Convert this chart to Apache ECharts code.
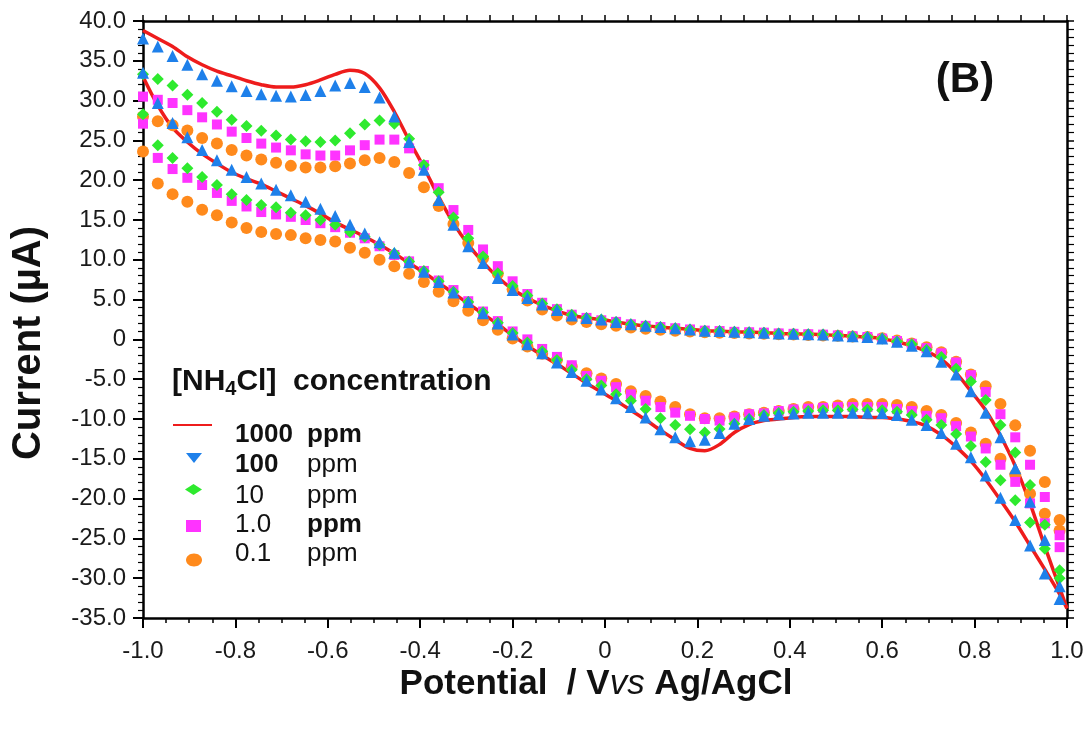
<!DOCTYPE html>
<html>
<head>
<meta charset="utf-8">
<script src="https://cdn.jsdelivr.net/npm/echarts@6/dist/echarts.min.js"></script>
<style>
  html, body { margin: 0; padding: 0; background: #ffffff; }
  #chart { width: 1088px; height: 731px; }
</style>
</head>
<body>
<div id="chart"></div>
<script>
// Potential grid of the recorded points (V vs Ag/AgCl), shared by both sweeps
const POTENTIAL = [
  -1.000, -0.968, -0.936, -0.904, -0.872, -0.840, -0.808, -0.776, -0.744, -0.712,
  -0.680, -0.648, -0.616, -0.584, -0.552, -0.520, -0.488, -0.456, -0.424, -0.392,
  -0.360, -0.328, -0.296, -0.264, -0.232, -0.200, -0.168, -0.136, -0.104, -0.072,
  -0.040, -0.008, 0.024, 0.056, 0.088, 0.120, 0.152, 0.184, 0.216, 0.248,
  0.280, 0.312, 0.344, 0.376, 0.408, 0.440, 0.472, 0.504, 0.536, 0.568,
  0.600, 0.632, 0.664, 0.696, 0.728, 0.760, 0.792, 0.824, 0.856, 0.888,
  0.920, 0.952, 0.984
];

// Switching point of the 1000 ppm trace
const SWITCH_POTENTIAL = 1.0;
const SWITCH_CURRENT_1000 = -33.8;

// Current (uA), upper sweep and lower sweep, per NH4Cl concentration
const cur1000Up = [
  38.8, 37.8, 36.8, 35.5, 34.5, 33.7, 33.1, 32.5, 32.0, 31.7,
  31.7, 32.0, 32.6, 33.3, 33.8, 33.4, 31.6, 28.6, 25.0, 21.6,
  17.9, 14.6, 11.9, 9.7, 7.8, 6.3, 5.2, 4.3, 3.6, 3.0,
  2.7, 2.5, 2.2, 1.9, 1.7, 1.55, 1.4, 1.25, 1.1, 1.05,
  0.95, 0.9, 0.85, 0.75, 0.7, 0.65, 0.6, 0.5, 0.4, 0.3,
  0.1, -0.3, -0.8, -1.5, -2.5, -4.2, -6.5, -8.9, -12.1, -15.9,
  -20.6, -26.0, -31.2
];
const cur1000Down = [
  33.0, 29.4, 26.6, 24.8, 23.3, 22.1, 21.0, 20.2, 19.5, 18.6,
  17.7, 16.8, 15.8, 14.7, 13.8, 12.9, 11.9, 10.8, 9.6, 8.4,
  7.1, 5.8, 4.5, 3.2, 1.9, 0.5, -0.8, -2.0, -3.1, -4.3,
  -5.5, -6.6, -7.7, -8.9, -10.1, -11.4, -12.6, -13.7, -14.0, -13.2,
  -11.7, -10.7, -10.2, -10.0, -9.8, -9.7, -9.7, -9.7, -9.7, -9.8,
  -9.8, -10.0, -10.3, -10.9, -12.0, -13.5, -15.3, -17.6, -20.2, -22.9,
  -25.9, -28.9, -32.0
];

const cur100Up = [
  37.8, 36.8, 35.6, 34.5, 33.3, 32.5, 31.8, 31.2, 30.8, 30.6,
  30.5, 30.7, 31.2, 31.9, 32.2, 31.7, 30.4, 28.0, 24.8, 21.3,
  17.5, 14.4, 11.7, 9.6, 7.7, 6.2, 5.2, 4.4, 3.7, 3.0,
  2.7, 2.5, 2.2, 1.9, 1.7, 1.55, 1.4, 1.25, 1.1, 1.05,
  0.95, 0.9, 0.85, 0.75, 0.7, 0.65, 0.6, 0.5, 0.4, 0.3,
  0.1, -0.3, -0.8, -1.5, -2.8, -4.4, -6.5, -9.2, -12.3, -16.2,
  -20.4, -25.2, -31.0
];
const cur100Down = [
  33.5, 29.7, 27.2, 25.4, 23.8, 22.5, 21.3, 20.4, 19.6, 18.8,
  18.1, 17.3, 16.4, 15.5, 14.4, 13.3, 12.2, 10.9, 9.7, 8.5,
  7.2, 5.9, 4.7, 3.3, 2.0, 0.6, -0.6, -1.75, -2.9, -4.1,
  -5.2, -6.3, -7.4, -8.5, -9.8, -11.3, -12.3, -12.8, -12.6, -11.75,
  -10.6, -10.0, -9.6, -9.4, -9.3, -9.2, -9.2, -9.2, -9.2, -9.2,
  -9.25, -9.5, -10.1, -10.75, -11.75, -13.1, -14.8, -17.1, -19.9, -22.7,
  -25.9, -29.4, -32.6
];

const cur10Up = [
  33.3, 32.7, 31.9, 30.75, 29.7, 28.6, 27.6, 26.8, 26.2, 25.6,
  25.1, 24.9, 24.8, 25.0, 25.9, 27.0, 27.5, 27.1, 25.2, 21.9,
  18.5, 15.3, 12.7, 10.4, 8.3, 6.7, 5.5, 4.5, 3.8, 3.1,
  2.7, 2.5, 2.2, 1.9, 1.7, 1.55, 1.4, 1.25, 1.1, 1.05,
  0.95, 0.9, 0.85, 0.75, 0.7, 0.65, 0.6, 0.5, 0.4, 0.3,
  0.1, -0.25, -0.6, -1.3, -2.2, -3.7, -5.3, -7.6, -10.75, -14.2,
  -18.3, -23.3, -29.0
];
const cur10Down = [
  28.3, 24.4, 22.8, 21.5, 20.4, 19.4, 18.25, 17.5, 16.9, 16.6,
  15.9, 15.6, 15.0, 14.4, 13.5, 12.9, 11.9, 10.8, 9.8, 8.6,
  7.3, 6.0, 4.7, 3.4, 2.1, 0.8, -0.4, -1.5, -2.6, -3.8,
  -5.0, -5.8, -6.9, -7.7, -8.75, -9.9, -10.75, -11.3, -11.7, -11.25,
  -10.6, -10.0, -9.5, -9.25, -9.1, -9.0, -8.9, -8.9, -8.8, -8.8,
  -8.9, -9.1, -9.5, -10.1, -10.75, -11.9, -13.4, -15.4, -17.7, -20.2,
  -23.0, -26.3, -30.0
];

const cur1Up = [
  30.5, 30.1, 29.7, 28.8, 27.9, 27.0, 26.1, 25.3, 24.6, 24.1,
  23.75, 23.25, 23.1, 23.1, 23.75, 24.4, 25.1, 25.1, 24.0, 21.9,
  19.0, 16.25, 13.75, 11.3, 9.2, 7.3, 5.7, 4.6, 3.8, 3.1,
  2.7, 2.4, 2.2, 1.9, 1.7, 1.55, 1.4, 1.25, 1.1, 1.05,
  0.95, 0.9, 0.85, 0.75, 0.7, 0.65, 0.6, 0.5, 0.4, 0.3,
  0.1, -0.2, -0.55, -1.1, -1.75, -2.9, -4.5, -6.6, -9.4, -12.3,
  -15.75, -19.8, -24.6
];
const cur1Down = [
  27.1, 22.8, 21.4, 20.3, 19.4, 18.4, 17.4, 16.7, 16.0, 15.7,
  15.4, 15.0, 14.6, 14.1, 13.4, 12.7, 11.7, 10.6, 9.8, 8.6,
  7.4, 6.2, 4.8, 3.5, 2.3, 1.0, 0.0, -1.2, -2.2, -3.25,
  -4.6, -5.2, -6.0, -6.9, -7.7, -8.5, -9.2, -9.6, -10.0, -10.2,
  -9.8, -9.4, -9.3, -9.0, -8.8, -8.7, -8.6, -8.5, -8.5, -8.5,
  -8.5, -8.75, -9.0, -9.6, -9.9, -10.9, -12.2, -13.7, -15.75, -17.9,
  -20.6, -23.1, -26.1
];

const cur01Up = [
  28.0, 27.4, 26.9, 26.25, 25.3, 24.6, 23.8, 23.1, 22.6, 22.2,
  21.8, 21.6, 21.6, 21.75, 22.1, 22.5, 22.8, 22.3, 20.9, 19.1,
  16.75, 14.5, 12.1, 10.2, 8.25, 6.3, 4.9, 3.75, 3.0, 2.5,
  2.2, 1.9, 1.7, 1.5, 1.35, 1.2, 1.1, 1.0, 0.9, 0.85,
  0.8, 0.75, 0.7, 0.65, 0.6, 0.55, 0.5, 0.45, 0.35, 0.3,
  0.15, -0.15, -0.5, -1.0, -1.6, -2.8, -4.4, -5.9, -8.1, -10.8,
  -14.0, -17.9, -22.7
];
const cur01Down = [
  23.6, 19.6, 18.25, 17.3, 16.3, 15.6, 14.7, 14.0, 13.5, 13.25,
  13.1, 12.7, 12.5, 12.3, 11.5, 10.9, 10.0, 9.2, 8.25, 7.2,
  6.0, 4.8, 3.6, 2.4, 1.2, 0.1, -0.9, -1.8, -2.6, -3.4,
  -4.25, -4.9, -5.6, -6.5, -7.1, -7.8, -8.5, -9.4, -9.9, -9.9,
  -9.7, -9.4, -9.2, -9.0, -8.75, -8.5, -8.5, -8.3, -8.1, -8.1,
  -8.1, -8.25, -8.5, -9.0, -9.5, -10.5, -11.7, -13.1, -15.0, -17.0,
  -19.4, -21.9, -24.0
];

// Axis ranges
const X_MIN = -1.0, X_MAX = 1.0, X_STEP = 0.2;
const Y_MIN = -35, Y_MAX = 40, Y_STEP = 5;

const FONT = '"Liberation Sans", Arial, Helvetica, sans-serif';

function pairs(xs, ys) {
  return ys.map((y, i) => [xs[i], y]);
}

// Full loop of the 1000 ppm trace: upper sweep, switching point, lower sweep back
const loop1000 = pairs(POTENTIAL, cur1000Up)
  .concat([[SWITCH_POTENTIAL, SWITCH_CURRENT_1000]])
  .concat(pairs(POTENTIAL, cur1000Down).reverse());

function markerSeries(name, up, down, symbol, size, color) {
  return {
    name: name,
    type: 'scatter',
    symbol: symbol,
    symbolSize: size,
    itemStyle: { color: color, opacity: 1 },
    data: pairs(POTENTIAL, up).concat(pairs(POTENTIAL, down)),
    z: 3
  };
}

function tickText(v) {
  return Math.abs(v) < 1e-9 ? '0' : v.toFixed(1);
}

const chart = echarts.init(document.getElementById('chart'), null, { renderer: 'canvas' });

const option = {
  animation: false,
  backgroundColor: '#ffffff',
  grid: { left: 143, right: 21, top: 21, bottom: 113, containLabel: false, outerBoundsMode: 'none' },
  xAxis: [
    {
      type: 'value', position: 'bottom',
      min: X_MIN, max: X_MAX, interval: X_STEP,
      axisLine: { show: true, onZero: false, lineStyle: { color: '#000', width: 2.5 } },
      axisTick: { show: true, inside: false, length: 10, lineStyle: { color: '#000', width: 2 } },
      minorTick: { show: true, splitNumber: 4, length: 5, lineStyle: { color: '#000', width: 1.5 } },
      splitLine: { show: false },
      axisLabel: { fontSize: 24, color: '#1a1a1a', fontFamily: FONT, margin: 21, formatter: tickText }
    },
    {
      type: 'value', position: 'top',
      min: X_MIN, max: X_MAX, interval: X_STEP,
      axisLine: { show: true, onZero: false, lineStyle: { color: '#000', width: 2.5 } },
      axisTick: { show: true, inside: false, length: 6, lineStyle: { color: '#000', width: 1.5 } },
      minorTick: { show: true, splitNumber: 4, length: 6, lineStyle: { color: '#000', width: 1.5 } },
      splitLine: { show: false },
      axisLabel: { show: false }
    }
  ],
  yAxis: [
    {
      type: 'value', position: 'left',
      min: Y_MIN, max: Y_MAX, interval: Y_STEP,
      axisLine: { show: true, onZero: false, lineStyle: { color: '#000', width: 2.5 } },
      axisTick: { show: true, inside: false, length: 10, lineStyle: { color: '#000', width: 2 } },
      minorTick: { show: true, splitNumber: 5, length: 5, lineStyle: { color: '#000', width: 1.2 } },
      splitLine: { show: false },
      axisLabel: { fontSize: 24, color: '#1a1a1a', fontFamily: FONT, margin: 17, formatter: tickText }
    },
    {
      type: 'value', position: 'right',
      min: Y_MIN, max: Y_MAX, interval: Y_STEP,
      axisLine: { show: true, onZero: false, lineStyle: { color: '#000', width: 2.5 } },
      axisTick: { show: true, inside: false, length: 7, lineStyle: { color: '#000', width: 1.5 } },
      minorTick: { show: true, splitNumber: 5, length: 7, lineStyle: { color: '#000', width: 1.2 } },
      splitLine: { show: false },
      axisLabel: { show: false }
    }
  ],
  series: [
    {
      name: '1000 ppm',
      type: 'line',
      data: loop1000,
      smooth: 0.3,
      showSymbol: false,
      symbol: 'none',
      lineStyle: { color: '#ee1c1c', width: 3.5 },
      z: 2
    },
    markerSeries('0.1 ppm', cur01Up, cur01Down, 'circle', 12, '#ff8a1c'),
    markerSeries('1.0 ppm', cur1Up, cur1Down, 'rect', 10, '#ff33ff'),
    markerSeries('10 ppm', cur10Up, cur10Down, 'diamond', [12, 12], '#2eea2e'),
    markerSeries('100 ppm', cur100Up, cur100Down, 'triangle', 12, '#1e80ea')
  ],
  graphic: [
    // axis titles
    {
      type: 'text', x: 29, y: 343, rotation: Math.PI / 2,
      style: {
        text: 'Current (\u00b5A)', align: 'center', verticalAlign: 'middle',
        font: 'bold 40px ' + FONT, fill: '#111'
      }
    },
    {
      type: 'text', x: 596, y: 684,
      style: {
        text: '{b|Potential  / V}{i|vs}{b| Ag/AgCl}', align: 'center', verticalAlign: 'middle',
        rich: {
          b: { fontSize: 35, fontWeight: 'bold', fontFamily: FONT, fill: '#111' },
          i: { fontSize: 35, fontStyle: 'italic', fontFamily: FONT, fill: '#111' }
        }
      }
    },
    // panel tag
    {
      type: 'text', x: 965, y: 80,
      style: { text: '(B)', align: 'center', verticalAlign: 'middle', font: 'bold 42px ' + FONT, fill: '#111' }
    },
    // legend
    {
      type: 'text', x: 172, y: 382,
      style: {
        text: '{m|[NH}{s|4}{m|Cl]  concentration}', align: 'left', verticalAlign: 'middle',
        rich: {
          m: { fontSize: 30, fontWeight: 'bold', fontFamily: FONT, fill: '#111', lineHeight: 34 },
          s: { fontSize: 20, fontWeight: 'bold', fontFamily: FONT, fill: '#111', verticalAlign: 'bottom', lineHeight: 34, padding: [12, 0, 0, 0] }
        }
      }
    },
    { type: 'line', shape: { x1: 173, y1: 425, x2: 212, y2: 425 }, style: { stroke: '#ee1c1c', lineWidth: 2 } },
    { type: 'polygon', shape: { points: [[186, 453], [202, 453], [194, 463]] }, style: { fill: '#1e80ea' } },
    { type: 'polygon', shape: { points: [[185, 489.5], [193.5, 484], [202, 489.5], [193.5, 495]] }, style: { fill: '#2eea2e' } },
    { type: 'rect', shape: { x: 186, y: 520, width: 15, height: 12 }, style: { fill: '#ff33ff' } },
    { type: 'ellipse', shape: { cx: 194, cy: 560, rx: 8, ry: 6.5 }, style: { fill: '#ff8a1c' } },
    { type: 'text', x: 235, y: 435, style: { text: '1000', verticalAlign: 'middle', font: 'bold 26px ' + FONT, fill: '#111' } },
    { type: 'text', x: 307, y: 435, style: { text: 'ppm', verticalAlign: 'middle', font: 'bold 26px ' + FONT, fill: '#111' } },
    { type: 'text', x: 235, y: 465, style: { text: '100', verticalAlign: 'middle', font: 'bold 26px ' + FONT, fill: '#111' } },
    { type: 'text', x: 307, y: 465, style: { text: 'ppm', verticalAlign: 'middle', font: '26px ' + FONT, fill: '#111' } },
    { type: 'text', x: 235, y: 496, style: { text: '10', verticalAlign: 'middle', font: '26px ' + FONT, fill: '#111' } },
    { type: 'text', x: 307, y: 496, style: { text: 'ppm', verticalAlign: 'middle', font: '26px ' + FONT, fill: '#111' } },
    { type: 'text', x: 235, y: 525, style: { text: '1.0', verticalAlign: 'middle', font: '26px ' + FONT, fill: '#111' } },
    { type: 'text', x: 307, y: 525, style: { text: 'ppm', verticalAlign: 'middle', font: 'bold 26px ' + FONT, fill: '#111' } },
    { type: 'text', x: 235, y: 554, style: { text: '0.1', verticalAlign: 'middle', font: '26px ' + FONT, fill: '#111' } },
    { type: 'text', x: 307, y: 554, style: { text: 'ppm', verticalAlign: 'middle', font: '26px ' + FONT, fill: '#111' } }
  ]
};

chart.setOption(option);
</script>
</body>
</html>
